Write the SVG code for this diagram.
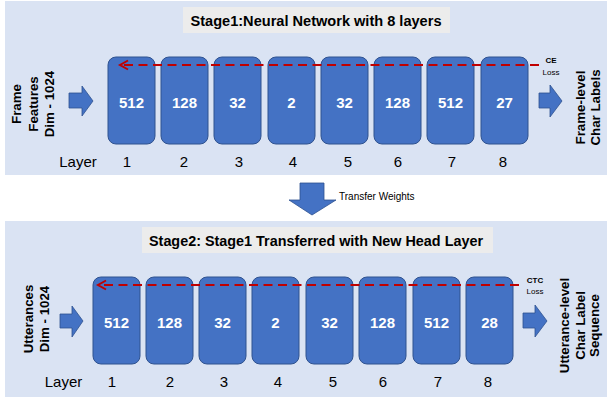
<svg xmlns="http://www.w3.org/2000/svg" width="612" height="402" viewBox="0 0 612 402">
  <defs>
    <style>
      .panel { fill: #dae3f3; }
      .tbox { fill: #ececec; }
      .title { font-family: "Liberation Sans", Arial, sans-serif; font-weight: bold; font-size: 14.5px; fill: #000; text-anchor: middle; }
      .layer { fill: #4472c4; stroke: #2f528f; stroke-width: 1; }
      .num { font-family: "Liberation Sans", Arial, sans-serif; font-weight: bold; font-size: 15px; fill: #fff; text-anchor: middle; }
      .lbl { font-family: "Liberation Sans", Arial, sans-serif; font-size: 15px; fill: #000; text-anchor: middle; }
      .side { font-family: "Liberation Sans", Arial, sans-serif; font-weight: bold; font-size: 13.3px; fill: #000; text-anchor: middle; }
      .loss { font-family: "Liberation Sans", Arial, sans-serif; font-size: 8px; fill: #000; text-anchor: middle; }
      .blk { fill: #4472c4; stroke: #2f528f; stroke-width: 0.8; }
      .dash { fill: none; stroke: #c00000; stroke-width: 2; stroke-dasharray: 9 5.5; }
      .head { fill: none; stroke: #c00000; stroke-width: 2; stroke-linejoin: miter; }
      .note { font-family: "Liberation Sans", Arial, sans-serif; font-size: 10px; fill: #000; }
    </style>
  </defs>

  <!-- Panels -->
  <rect class="panel" x="5" y="1" width="602" height="174"/>
  <rect class="panel" x="5" y="221" width="602" height="176"/>

  <!-- Stage 1 -->
  <g id="title1">
    <rect class="tbox" x="183" y="7" width="267" height="26"/>
    <text class="title" x="316" y="26" textLength="251" lengthAdjust="spacingAndGlyphs">Stage1:Neural Network with 8 layers</text>
  </g>
  <g id="input1">
    <text class="side" transform="translate(20.5,104) rotate(-90)">Frame</text>
    <text class="side" transform="translate(37.5,104) rotate(-90)">Features</text>
    <text class="side" transform="translate(54,104) rotate(-90)">Dim - 1024</text>
  </g>
  <g id="s1l1"><rect class="layer" x="108" y="57" width="47" height="87" rx="8"/><text class="num" x="131.5" y="107.5">512</text></g>
  <g id="s1l2"><rect class="layer" x="161" y="57" width="47" height="87" rx="8"/><text class="num" x="184.5" y="107.5">128</text></g>
  <g id="s1l3"><rect class="layer" x="214" y="57" width="47" height="87" rx="8"/><text class="num" x="237.5" y="107.5">32</text></g>
  <g id="s1l4"><rect class="layer" x="268" y="57" width="47" height="87" rx="8"/><text class="num" x="291.5" y="107.5">2</text></g>
  <g id="s1l5"><rect class="layer" x="321" y="57" width="47" height="87" rx="8"/><text class="num" x="344.5" y="107.5">32</text></g>
  <g id="s1l6"><rect class="layer" x="374" y="57" width="47" height="87" rx="8"/><text class="num" x="397.5" y="107.5">128</text></g>
  <g id="s1l7"><rect class="layer" x="427" y="57" width="47" height="87" rx="8"/><text class="num" x="450.5" y="107.5">512</text></g>
  <g id="s1l8"><rect class="layer" x="481" y="57" width="47" height="87" rx="8"/><text class="num" x="504.5" y="107.5">27</text></g>
  <g id="layers1">
    <text class="lbl" x="78" y="167">Layer</text>
    <text class="lbl" x="127" y="167">1</text>
    <text class="lbl" x="184" y="167">2</text>
    <text class="lbl" x="239" y="167">3</text>
    <text class="lbl" x="293" y="167">4</text>
    <text class="lbl" x="348" y="167">5</text>
    <text class="lbl" x="398" y="167">6</text>
    <text class="lbl" x="452" y="167">7</text>
    <text class="lbl" x="503" y="167">8</text>
  </g>
  <g id="loss1">
    <text class="loss" x="551" y="63" font-weight="bold">CE</text>
    <text class="loss" x="551" y="75">Loss</text>
  </g>
  <g id="output1">
    <text class="side" font-size="13px" transform="translate(585,107.5) rotate(-90)">Frame-level</text>
    <text class="side" font-size="13px" transform="translate(600,107.5) rotate(-90)">Char Labels</text>
  </g>

  <!-- Transfer -->
  <g id="transfer">
    <text class="note" x="339" y="199.5">Transfer Weights</text>
  </g>

  <!-- Stage 2 -->
  <g id="title2">
    <rect class="tbox" x="142" y="227" width="351" height="26"/>
    <text class="title" x="316" y="245.5" textLength="334" lengthAdjust="spacingAndGlyphs">Stage2: Stage1 Transferred with New Head Layer</text>
  </g>
  <g id="input2">
    <text class="side" transform="translate(33,319) rotate(-90)">Utterances</text>
    <text class="side" transform="translate(49,319) rotate(-90)">Dim - 1024</text>
  </g>
  <g id="s2l1"><rect class="layer" x="93" y="277" width="47" height="87" rx="8"/><text class="num" x="116.5" y="328">512</text></g>
  <g id="s2l2"><rect class="layer" x="146" y="277" width="47" height="87" rx="8"/><text class="num" x="169.5" y="328">128</text></g>
  <g id="s2l3"><rect class="layer" x="199" y="277" width="47" height="87" rx="8"/><text class="num" x="222.5" y="328">32</text></g>
  <g id="s2l4"><rect class="layer" x="252" y="277" width="47" height="87" rx="8"/><text class="num" x="275.5" y="328">2</text></g>
  <g id="s2l5"><rect class="layer" x="306" y="277" width="47" height="87" rx="8"/><text class="num" x="329.5" y="328">32</text></g>
  <g id="s2l6"><rect class="layer" x="359" y="277" width="47" height="87" rx="8"/><text class="num" x="382.5" y="328">128</text></g>
  <g id="s2l7"><rect class="layer" x="413" y="277" width="47" height="87" rx="8"/><text class="num" x="436.5" y="328">512</text></g>
  <g id="s2l8"><rect class="layer" x="466" y="277" width="47" height="87" rx="8"/><text class="num" x="489.5" y="328">28</text></g>
  <g id="layers2">
    <text class="lbl" x="63.5" y="387">Layer</text>
    <text class="lbl" x="112" y="387">1</text>
    <text class="lbl" x="170" y="387">2</text>
    <text class="lbl" x="224" y="387">3</text>
    <text class="lbl" x="278" y="387">4</text>
    <text class="lbl" x="333" y="387">5</text>
    <text class="lbl" x="383" y="387">6</text>
    <text class="lbl" x="438" y="387">7</text>
    <text class="lbl" x="488" y="387">8</text>
  </g>
  <g id="loss2">
    <text class="loss" x="535" y="283" font-weight="bold">CTC</text>
    <text class="loss" x="535" y="294">Loss</text>
  </g>
  <g id="output2">
    <text class="side" font-size="13px" transform="translate(569,325.5) rotate(-90)">Utterance-level</text>
    <text class="side" font-size="13px" transform="translate(585,325.5) rotate(-90)">Char Label</text>
    <text class="side" font-size="13px" transform="translate(599,325.5) rotate(-90)">Sequence</text>
  </g>

  <!-- Connectors -->
  <g id="connectors">
    <polygon class="blk" points="69,93 82,93 82,86 93,101 82,116 82,108 69,108"/>
    <polygon class="blk" points="539,93 550,93 550,85 562,101 550,117 550,108 539,108"/>
    <path class="dash" d="M539,65 H120"/>
    <path class="head" d="M128,60.5 L120,65 L128,69.5"/>

    <polygon class="blk" points="300,183 324,183 324,200 336,200 312,215 289,200 300,200"/>

    <polygon class="blk" points="60,314 72,314 72,306 83,321 72,337 72,328 60,328"/>
    <polygon class="blk" points="523,313 535,313 535,305 547,321 535,337 535,328 523,328"/>
    <path class="dash" d="M519,285 H98"/>
    <path class="head" d="M106,280.5 L98,285 L106,289.5"/>
  </g>
</svg>
